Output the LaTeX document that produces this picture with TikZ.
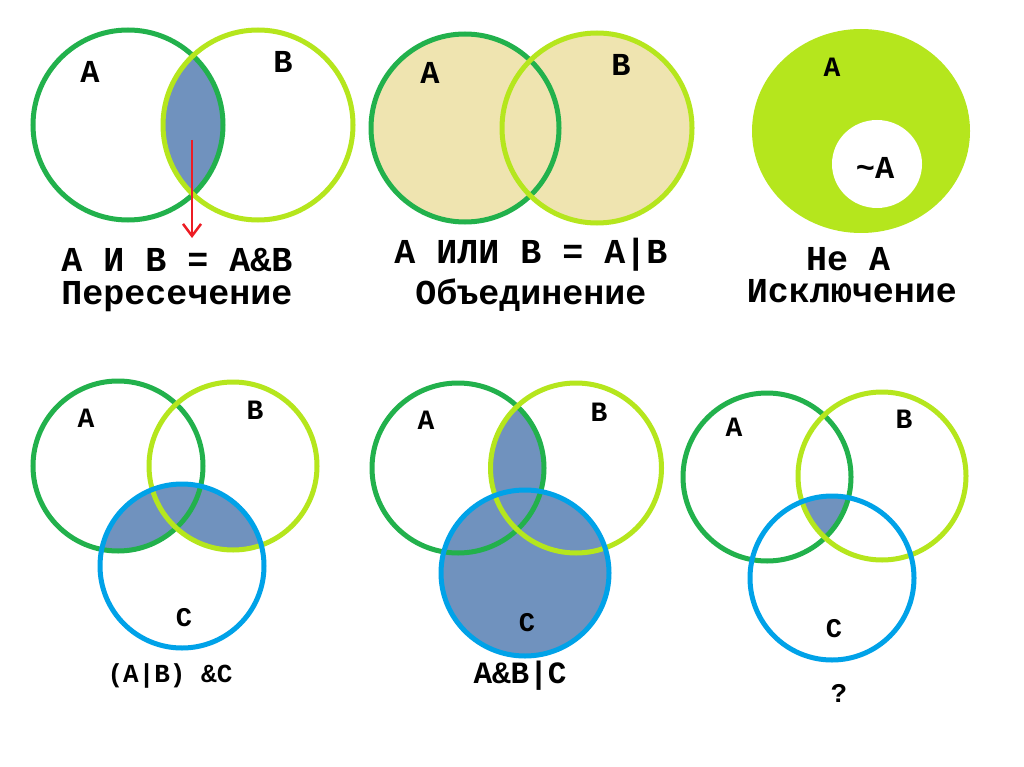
\documentclass[tikz,border=0pt]{standalone}
\usepackage{fontspec}
\setmainfont{Liberation Mono}
\usetikzlibrary{arrows.meta}
\definecolor{dkgreen}{HTML}{22B14C}
\definecolor{limeg}{HTML}{B5E61D}
\definecolor{cblue}{HTML}{00A2E8}
\definecolor{bluegray}{HTML}{7092BE}
\definecolor{tanfill}{HTML}{EFE4B0}
\definecolor{arrred}{HTML}{ED1C24}
\tikzset{
  ringA/.style={draw=dkgreen, line width=5pt},
  ringB/.style={draw=limeg, line width=5pt},
  ringC/.style={draw=cblue, line width=5pt},
  lbl/.style={font=\fontsize{32}{36}\selectfont\bfseries, inner sep=0pt},
  lbls/.style={font=\fontsize{28}{32}\selectfont\bfseries, inner sep=0pt},
  lblc/.style={font=\fontsize{27}{30}\selectfont\bfseries, inner sep=0pt},
  caption/.style={font=\fontsize{35}{40}\selectfont\bfseries, inner sep=0pt, anchor=base},
  capsmall/.style={font=\fontsize{26}{30}\selectfont\bfseries, inner sep=0pt},
}
\begin{document}
\begin{tikzpicture}[x=1pt,y=-1pt]
\useasboundingbox (0,0) rectangle (1024,767);
\fill[white] (0,0) rectangle (1024,767);

% ---------- Panel 1: A & B ----------
\begin{scope}
  \clip (128,125) circle [radius=95];
  \fill[bluegray] (258,125) circle [radius=95];
\end{scope}
\draw[ringA] (128,125) circle [radius=95];
\draw[ringB] (258,125) circle [radius=95];
\node[lbl] (p1a) at (90,72) {A};
\node[lbl] (p1b) at (283,62) {B};
\coordinate (arrS) at (192,140);
\coordinate (arrE) at (192,238);
\draw[arrred, line width=2.5pt, -{Straight Barb[length=12pt,width=18pt]}] (arrS) -- (arrE);
\node[caption] (p1t1) at (177,271) {A И B = A\&B};
\node[caption] (p1t2) at (177,304) {Пересечение};

% ---------- Panel 2: A | B ----------
\fill[tanfill] (465,128) circle [radius=94];
\fill[tanfill] (597,128) circle [radius=95];
\draw[ringA] (465,128) circle [radius=94];
\draw[ringB] (597,128) circle [radius=95];
\node[lbl] (p2a) at (430,73) {A};
\node[lbl] (p2b) at (621,65) {B};
\node[caption] (p2t1) at (531,263) {A ИЛИ B = A|B};
\node[caption] (p2t2) at (531,304) {Объединение};

% ---------- Panel 3: not A ----------
\fill[limeg] (861,131) ellipse [x radius=109, y radius=102];
\fill[white] (877,164) ellipse [x radius=45, y radius=44];
\node[lbls] (p3a) at (832,67) {A};
\node[lbl] (p3na) at (875,168) {\textasciitilde A};
\node[caption] (p3t1) at (848,270) {Не A};
\node[caption] (p3t2) at (852,302) {Исключение};

% ---------- Panel 4: (A|B)&C ----------
\begin{scope}
  \clip (182,566) circle [radius=82];
  \fill[bluegray] (118,466) circle [radius=85];
  \fill[bluegray] (233,466) circle [radius=84];
\end{scope}
\draw[ringA] (118,466) circle [radius=85];
\draw[ringB] (233,466) circle [radius=84];
\draw[ringC] (182,566) circle [radius=82];
\node[lbls] (p4a) at (86,418) {A};
\node[lbls] (p4b) at (255,410) {B};
\node[lblc] (p4c) at (184,618) {C};
\node[capsmall] (p4t) at (170,676) {(A|B) \&C};

% ---------- Panel 5: A&B|C ----------
\fill[bluegray] (525,573) ellipse [x radius=84, y radius=83];
\begin{scope}
  \clip (458,468) ellipse [x radius=86, y radius=85];
  \fill[bluegray] (576,468) ellipse [x radius=85.5, y radius=85];
\end{scope}
\draw[ringA] (458,468) ellipse [x radius=86, y radius=85];
\draw[ringB] (576,468) ellipse [x radius=85.5, y radius=85];
\draw[ringC] (525,573) ellipse [x radius=84, y radius=83];
\node[lbls] (p5a) at (426,420) {A};
\node[lbls] (p5b) at (599,412) {B};
\node[lblc] (p5c) at (527,623) {C};
\node[capsmall, font=\fontsize{31}{34}\selectfont\bfseries] (p5t) at (520,676) {A\&B|C};

% ---------- Panel 6: ? ----------
\begin{scope}
  \clip (767,477) circle [radius=84];
  \clip (882,476) circle [radius=84];
  \fill[bluegray] (832,578) circle [radius=82];
\end{scope}
\draw[ringA] (767,477) circle [radius=84];
\draw[ringB] (882,476) circle [radius=84];
\draw[ringC] (832,578) circle [radius=82];
\node[lbls] (p6a) at (734,427) {A};
\node[lbls] (p6b) at (904,419) {B};
\node[lblc] (p6c) at (834,629) {C};
\node[lblc] (p6q) at (839,693) {?};
\end{tikzpicture}
\end{document}
